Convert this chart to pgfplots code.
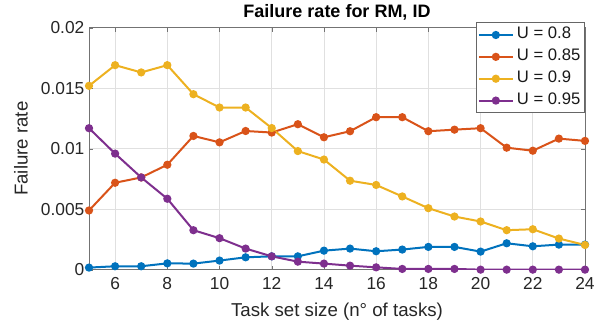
\documentclass[border=0pt]{standalone}
\usepackage{fontspec}
\setmainfont{Liberation Sans}
\usepackage{pgfplots}
\pgfplotsset{compat=1.18}
\definecolor{mblue}{RGB}{0,114,189}
\definecolor{morange}{RGB}{217,83,25}
\definecolor{myellow}{RGB}{237,177,32}
\definecolor{mpurple}{RGB}{126,47,142}
\begin{document}
\begin{tikzpicture}
\begin{axis}[
  scale only axis,
  width=372pt, height=181.5pt,
  xmin=5, xmax=24, ymin=0, ymax=0.02,
  xtick={6,8,...,24},
  ytick={0,0.005,0.01,0.015,0.02},
  yticklabels={0,0.005,0.01,0.015,0.02},
  scaled y ticks=false,
  /pgf/number format/assume math mode=true,
  ticklabel style={font=\fontsize{13}{15}\selectfont, text=black!85},
  xticklabel style={yshift=-2.5pt},
  label style={font=\fontsize{14}{16}\selectfont, text=black!85},
  title style={font=\fontsize{13.5}{15}\selectfont\bfseries, yshift=-4pt},
  title={Failure rate for RM, ID},
  xlabel={Task set size (n° of tasks)},
  ylabel={Failure rate},
  xlabel style={yshift=-3pt},
  ylabel style={yshift=3pt},
  grid=major,
  major grid style={black!12, line width=0.5pt},
  axis line style={black!55, line width=0.6pt},
  tick style={black!55},
  tick align=inside,
  major tick length=3pt,
  every axis plot/.append style={line width=1.5pt, mark=*, mark size=2.3pt},
  legend style={at={(rel axis cs:1,1.022)}, anchor=north east, draw=black!60, line width=0.6pt,
    font=\fontsize{12.5}{14}\selectfont, inner sep=1pt, row sep=0pt, text=black!90,
    nodes={text height=9pt, text depth=3pt, inner sep=2.2pt}},
  legend cell align=left,
  legend image code/.code={\draw[#1, mark repeat=2, mark phase=2] plot coordinates {(0cm,0cm) (0.45cm,0cm) (0.9cm,0cm)};},
]
\addplot[mblue, mark options={fill=mblue}] coordinates {
(5,0.00017) (6,0.00028) (7,0.00028) (8,0.00052) (9,0.00050) (10,0.00075)
(11,0.00102) (12,0.00110) (13,0.00110) (14,0.00157) (15,0.00174) (16,0.00152)
(17,0.00166) (18,0.00188) (19,0.00188) (20,0.00149) (21,0.00218) (22,0.00193)
(23,0.00207) (24,0.00207)};
\addlegendentry{U = 0.8}
\addplot[morange, mark options={fill=morange}] coordinates {
(5,0.00489) (6,0.00718) (7,0.00762) (8,0.00867) (9,0.01105) (10,0.01052)
(11,0.01146) (12,0.01133) (13,0.01202) (14,0.01094) (15,0.01144) (16,0.01260)
(17,0.01260) (18,0.01144) (19,0.01157) (20,0.01169) (21,0.01008) (22,0.00983)
(23,0.01083) (24,0.01064)};
\addlegendentry{U = 0.85}
\addplot[myellow, mark options={fill=myellow}] coordinates {
(5,0.01519) (6,0.01690) (7,0.01630) (8,0.01690) (9,0.01450) (10,0.01340)
(11,0.01340) (12,0.01170) (13,0.00980) (14,0.00910) (15,0.00735) (16,0.00700)
(17,0.00605) (18,0.00508) (19,0.00439) (20,0.00398) (21,0.00326) (22,0.00334)
(23,0.00257) (24,0.00204)};
\addlegendentry{U = 0.9}
\addplot[mpurple, mark options={fill=mpurple}] coordinates {
(5,0.01169) (6,0.00959) (7,0.00762) (8,0.00586) (9,0.00326) (10,0.00260)
(11,0.00174) (12,0.00110) (13,0.00066) (14,0.00050) (15,0.00033) (16,0.00019)
(17,0.00006) (18,0.00006) (19,0.00006) (20,0.00000) (21,0.00000) (22,0.00000)
(23,0.00000) (24,0.00000)};
\addlegendentry{U = 0.95}
\end{axis}
\path ([shift={(-66.75pt,-43.5pt)}]current axis.south west) rectangle ([shift={(19.5pt,18pt)}]current axis.north east);
\end{tikzpicture}
\end{document}
